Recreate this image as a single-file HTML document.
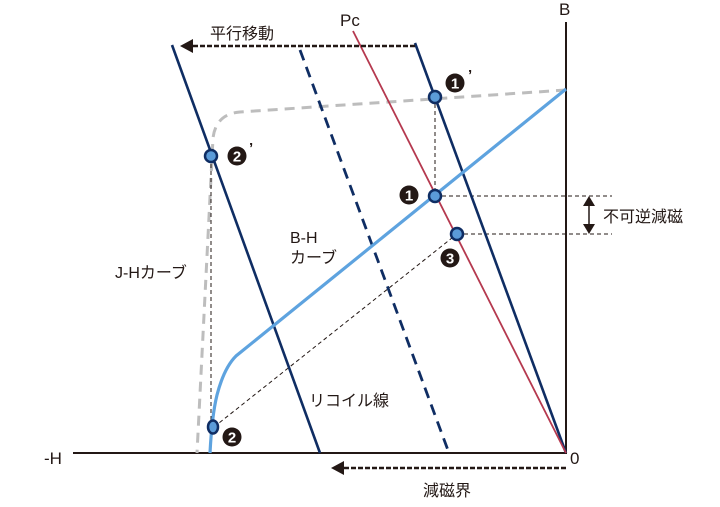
<!DOCTYPE html>
<html><head><meta charset="utf-8"><style>
html,body{margin:0;padding:0;background:#fff}
svg text{font-family:"Liberation Sans","Noto Sans CJK JP",sans-serif;fill:#231815}
</style></head><body>
<svg width="720" height="502" viewBox="0 0 720 502" xmlns="http://www.w3.org/2000/svg">
<!-- axes -->
<line x1="73" y1="453" x2="567" y2="453" stroke="#231815" stroke-width="2"/>
<line x1="566" y1="22" x2="566" y2="454" stroke="#231815" stroke-width="2"/>
<text x="44" y="464" font-size="17">-H</text>
<text x="570" y="464" font-size="17">0</text>
<text x="559" y="15" font-size="17">B</text>
<!-- J-H curve -->
<path d="M566,90 L240,112 Q216,114 213,138 L197,453" fill="none" stroke="#bdbdbd" stroke-width="3" stroke-dasharray="10,7"/>
<!-- thin dashed helpers -->
<g stroke="#231815" stroke-width="1" stroke-dasharray="4,3" fill="none">
<line x1="435" y1="97" x2="435" y2="196"/>
<line x1="435" y1="196" x2="612" y2="196"/>
<line x1="457" y1="234" x2="612" y2="234"/>
<line x1="211" y1="157" x2="211" y2="425"/>
<line x1="214" y1="427" x2="457" y2="234"/>
</g>
<!-- recoil lines -->
<line x1="172" y1="45" x2="320" y2="453" stroke="#0f2d63" stroke-width="2.6"/>
<line x1="415" y1="43" x2="566" y2="453" stroke="#0f2d63" stroke-width="2.6"/>
<line x1="300" y1="50" x2="449" y2="453" stroke="#0f2d63" stroke-width="2.8" stroke-dasharray="11,7"/>
<!-- Pc -->
<line x1="353" y1="31" x2="566" y2="453" stroke="#b5394f" stroke-width="1.8"/>
<text x="340" y="26" font-size="17">Pc</text>
<!-- B-H curve -->
<path d="M566,89 L236,356 Q224,368 217,395 Q212,415 210,453" fill="none" stroke="#5ea3df" stroke-width="3.2"/>
<!-- arrows -->
<line x1="415" y1="46" x2="190" y2="46" stroke="#231815" stroke-width="2.4" stroke-dasharray="5,2"/>
<path d="M180,46 L193,39 L193,53 Z" fill="#231815"/>
<text x="210" y="39" font-size="16">平行移動</text>
<line x1="566" y1="468" x2="342" y2="468" stroke="#231815" stroke-width="2.4" stroke-dasharray="5,2"/>
<path d="M331,468 L344,461 L344,475 Z" fill="#231815"/>
<text x="423" y="496" font-size="16">減磁界</text>
<!-- double arrow -->
<line x1="589" y1="205" x2="589" y2="225" stroke="#231815" stroke-width="1.5"/>
<path d="M583,206 L595,206 L589,196 Z M583,224 L595,224 L589,234 Z" fill="#231815"/>
<text x="603" y="222" font-size="16">不可逆減磁</text>
<!-- labels -->
<text x="290" y="243" font-size="16">B-H</text>
<text x="290" y="263" font-size="16">カーブ</text>
<text x="115" y="278" font-size="16">J-Hカーブ</text>
<text x="309" y="406" font-size="16">リコイル線</text>
<!-- points -->
<g fill="#5b9bd8" stroke="#0f2d63" stroke-width="2.5">
<circle cx="435" cy="97" r="6"/>
<circle cx="211" cy="156" r="6"/>
<circle cx="435" cy="196" r="6"/>
<circle cx="457" cy="234" r="6"/>
<ellipse cx="213" cy="427" rx="5" ry="6.5"/>
</g>
<!-- number badges -->
<g font-size="15" font-weight="bold" text-anchor="middle">
<circle cx="455" cy="83" r="9.5" fill="#231815"/><text x="455" y="88.5" style="fill:#fff">1</text><text x="468" y="80" font-size="15" text-anchor="start">’</text>
<circle cx="237" cy="156" r="9.5" fill="#231815"/><text x="237" y="161.5" style="fill:#fff">2</text><text x="249" y="153" font-size="15" text-anchor="start">’</text>
<circle cx="409" cy="195" r="9.5" fill="#231815"/><text x="409" y="200.5" style="fill:#fff">1</text>
<circle cx="450" cy="258" r="9.5" fill="#231815"/><text x="450" y="263.5" style="fill:#fff">3</text>
<circle cx="232" cy="437" r="9.5" fill="#231815"/><text x="232" y="442.5" style="fill:#fff">2</text>
</g>
</svg>
</body></html>
